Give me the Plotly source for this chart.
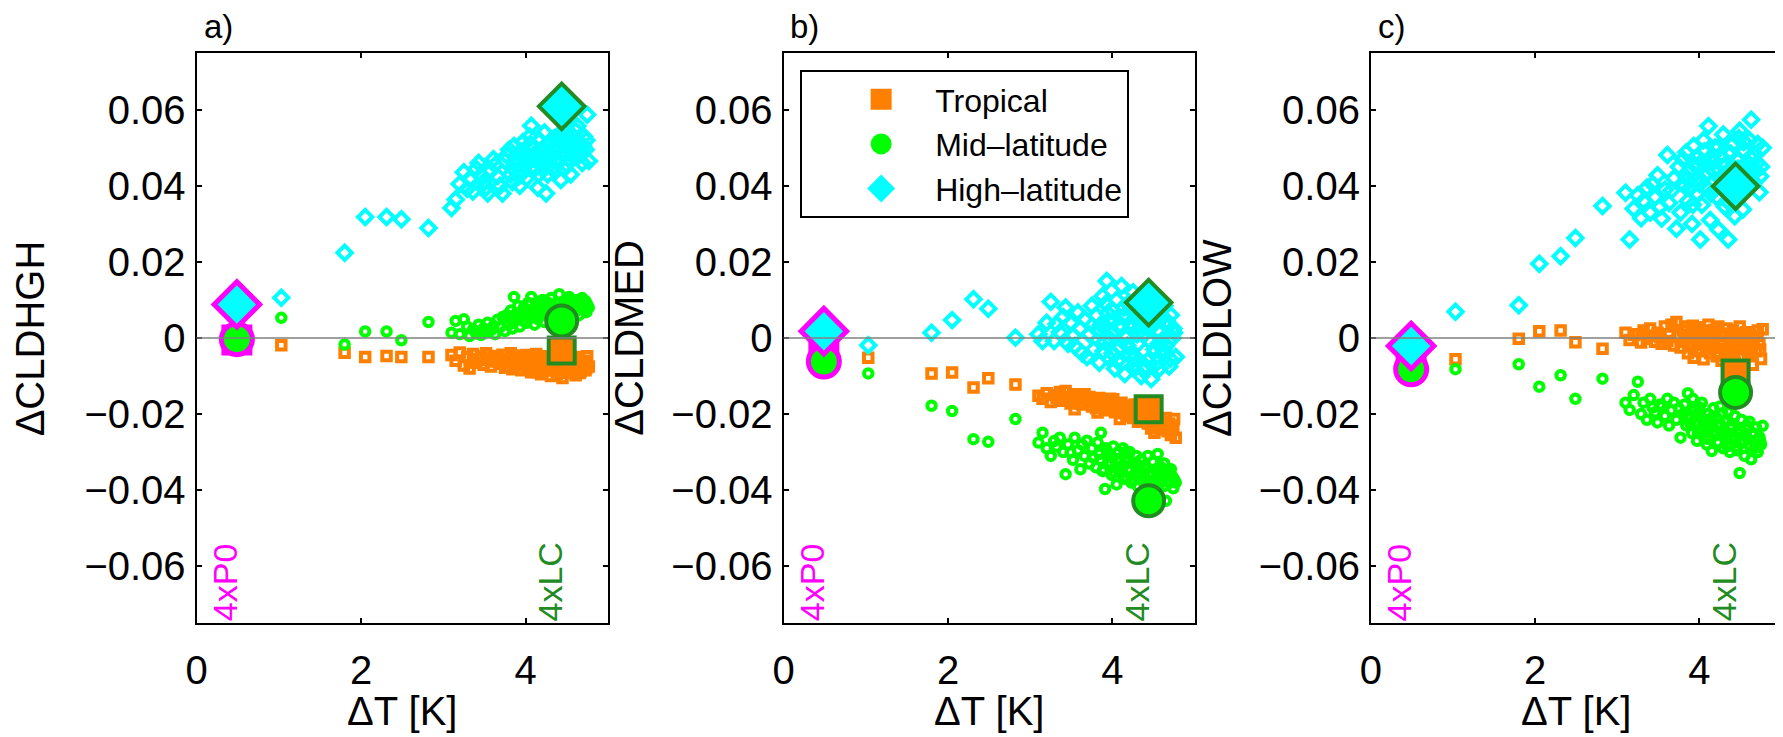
import plotly.graph_objects as go

W, H = 1783, 737
OFF = 8  # page body margin of the html page (px)

# ---------------- data ----------------
# Global-mean warming of each simulation (shared by the three panels)
dT = [1.03, 1.80, 2.05, 2.31, 2.49, 2.82,
      3.10, 3.15, 3.20, 3.25, 3.29, 3.32, 3.36, 3.40, 3.43, 3.46,
      3.49, 3.52, 3.54, 3.58, 3.61, 3.63, 3.66, 3.69, 3.72, 3.75,
      3.77, 3.80, 3.82, 3.84, 3.86, 3.88, 3.91, 3.93, 3.95, 3.97,
      3.99, 4.01, 4.03, 4.05, 4.07, 4.09, 4.11, 4.13, 4.15, 4.17,
      4.19, 4.21, 4.23, 4.25, 4.27, 4.29, 4.31, 4.33, 4.35, 4.37,
      4.39, 4.41, 4.43, 4.45, 4.47, 4.49, 4.51, 4.53, 4.55, 4.57,
      4.59, 4.61, 4.63, 4.65, 4.67, 4.69, 4.71, 4.73, 4.75, 4.77,
      3.85, 3.89, 3.94, 3.98, 4.02, 4.06, 4.10, 4.14, 4.18, 4.22,
      4.26, 4.30, 4.34, 4.38, 4.42, 4.46, 4.50, 4.54, 4.58, 4.62,
      4.66, 4.70, 4.74, 3.92, 4.00, 4.16, 4.28, 4.40, 4.48, 4.56]

# a) high cloud
hgh_trop = [-0.0019, -0.0039, -0.0050, -0.0047, -0.0050, -0.0050,
            -0.0045, -0.0060, -0.0038, -0.0072, -0.0050, -0.0080, -0.0042, -0.0065, -0.0055, -0.0048,
            -0.0070, -0.0040, -0.0058, -0.0075, -0.0047, -0.0062, -0.0052, -0.0068, -0.0044, -0.0078,
            -0.0056, -0.0064, -0.0040, -0.0082, -0.0050, -0.0070, -0.0046, -0.0060, -0.0085, -0.0053,
            -0.0066, -0.0045, -0.0076, -0.0058, -0.0090, -0.0050, -0.0068, -0.0042, -0.0080, -0.0062,
            -0.0095, -0.0055, -0.0072, -0.0048, -0.0085, -0.0060, -0.0100, -0.0052, -0.0075, -0.0066,
            -0.0088, -0.0050, -0.0070, -0.0105, -0.0058, -0.0078, -0.0045, -0.0092, -0.0063, -0.0082,
            -0.0055, -0.0098, -0.0068, -0.0050, -0.0088, -0.0072, -0.0060, -0.0085, -0.0048, -0.0075,
            -0.0060, -0.0075, -0.0052, -0.0068, -0.0082, -0.0058, -0.0072, -0.0090, -0.0065, -0.0078,
            -0.0055, -0.0085, -0.0068, -0.0095, -0.0060, -0.0072, -0.0088, -0.0062, -0.0080, -0.0070,
            -0.0092, -0.0065, -0.0078, -0.0048, -0.0056, -0.0070, -0.0078, -0.0084, -0.0066, -0.0074]
hgh_mid = [0.0053, -0.0017, 0.0017, 0.0017, -0.0006, 0.0042,
           0.0014, 0.0045, 0.0010, 0.0049, 0.0030, 0.0005, 0.0022, 0.0012, 0.0035, 0.0008,
           0.0025, 0.0015, 0.0040, 0.0020, 0.0032, 0.0010, 0.0048, 0.0028, 0.0055, 0.0018,
           0.0060, 0.0035, 0.0072, 0.0025, 0.0108, 0.0050, 0.0085, 0.0030, 0.0065, 0.0045,
           0.0078, 0.0040, 0.0092, 0.0055, 0.0108, 0.0068, 0.0035, 0.0082, 0.0050, 0.0095,
           0.0060, 0.0100, 0.0042, 0.0075, 0.0088, 0.0055, 0.0105, 0.0068, 0.0048, 0.0090,
           0.0072, 0.0115, 0.0058, 0.0085, 0.0045, 0.0098, 0.0065, 0.0108, 0.0078, 0.0052,
           0.0090, 0.0070, 0.0100, 0.0060, 0.0085, 0.0105, 0.0075, 0.0097, 0.0088, 0.0080,
           0.0040, 0.0065, 0.0055, 0.0080, 0.0062, 0.0090, 0.0072, 0.0058, 0.0085, 0.0070,
           0.0095, 0.0062, 0.0080, 0.0092, 0.0075, 0.0065, 0.0088, 0.0100, 0.0070, 0.0082,
           0.0095, 0.0078, 0.0068, 0.0058, 0.0070, 0.0088, 0.0080, 0.0092, 0.0086, 0.0095]
hgh_high = [0.0106, 0.0224, 0.0318, 0.0318, 0.0312, 0.0289,
            0.0342, 0.0364, 0.0405, 0.0436, 0.0392, 0.0418, 0.0385, 0.0445, 0.0460, 0.0428,
            0.0410, 0.0395, 0.0380, 0.0440, 0.0470, 0.0455, 0.0425, 0.0400, 0.0380, 0.0465,
            0.0480, 0.0495, 0.0430, 0.0410, 0.0505, 0.0455, 0.0470, 0.0400, 0.0440, 0.0515,
            0.0485, 0.0420, 0.0460, 0.0530, 0.0558, 0.0440, 0.0500, 0.0470, 0.0395, 0.0520,
            0.0455, 0.0490, 0.0540, 0.0380, 0.0430, 0.0510, 0.0475, 0.0445, 0.0525, 0.0500,
            0.0460, 0.0535, 0.0415, 0.0490, 0.0445, 0.0560, 0.0505, 0.0470, 0.0430, 0.0515,
            0.0500, 0.0545, 0.0557, 0.0480, 0.0510, 0.0460, 0.0530, 0.0495, 0.0587, 0.0465,
            0.0445, 0.0460, 0.0490, 0.0455, 0.0475, 0.0510, 0.0450, 0.0485, 0.0465, 0.0500,
            0.0480, 0.0455, 0.0495, 0.0470, 0.0520, 0.0480, 0.0455, 0.0500, 0.0480, 0.0515,
            0.0490, 0.0505, 0.0520, 0.0425, 0.0475, 0.0430, 0.0465, 0.0500, 0.0540, 0.0485]

# b) middle cloud
med_trop = [-0.0052, -0.0093, -0.0091, -0.0130, -0.0106, -0.0122,
            -0.0152, -0.0160, -0.0145, -0.0168, -0.0150, -0.0158, -0.0142, -0.0165, -0.0139, -0.0155,
            -0.0172, -0.0148, -0.0187, -0.0160, -0.0150, -0.0175, -0.0148, -0.0168, -0.0155, -0.0180,
            -0.0162, -0.0185, -0.0196, -0.0158, -0.0175, -0.0165, -0.0190, -0.0168, -0.0180, -0.0160,
            -0.0185, -0.0161, -0.0195, -0.0172, -0.0188, -0.0213, -0.0170, -0.0198, -0.0182, -0.0205,
            -0.0178, -0.0200, -0.0185, -0.0210, -0.0175, -0.0195, -0.0220, -0.0178, -0.0205, -0.0190,
            -0.0215, -0.0195, -0.0225, -0.0200, -0.0238, -0.0210, -0.0249, -0.0205, -0.0230, -0.0215,
            -0.0240, -0.0220, -0.0235, -0.0210, -0.0245, -0.0225, -0.0255, -0.0230, -0.0213, -0.0262,
            -0.0175, -0.0180, -0.0178, -0.0188, -0.0180, -0.0192, -0.0195, -0.0185, -0.0198, -0.0200,
            -0.0190, -0.0205, -0.0198, -0.0208, -0.0212, -0.0220, -0.0215, -0.0225, -0.0218, -0.0228,
            -0.0232, -0.0238, -0.0242, -0.0178, -0.0175, -0.0190, -0.0188, -0.0200, -0.0222, -0.0230]
med_mid = [-0.0093, -0.0178, -0.0192, -0.0266, -0.0273, -0.0213,
           -0.0275, -0.0249, -0.0290, -0.0310, -0.0271, -0.0285, -0.0262, -0.0300, -0.0358, -0.0280,
           -0.0301, -0.0320, -0.0262, -0.0295, -0.0345, -0.0280, -0.0310, -0.0270, -0.0330, -0.0290,
           -0.0315, -0.0340, -0.0275, -0.0305, -0.0249, -0.0350, -0.0397, -0.0295, -0.0330, -0.0310,
           -0.0360, -0.0285, -0.0340, -0.0385, -0.0300, -0.0325, -0.0355, -0.0290, -0.0370, -0.0315,
           -0.0345, -0.0300, -0.0380, -0.0330, -0.0360, -0.0310, -0.0390, -0.0340, -0.0320, -0.0365,
           -0.0335, -0.0395, -0.0310, -0.0355, -0.0375, -0.0325, -0.0400, -0.0345, -0.0305, -0.0370,
           -0.0340, -0.0360, -0.0330, -0.0428, -0.0350, -0.0380, -0.0345, -0.0365, -0.0372, -0.0380,
           -0.0320, -0.0345, -0.0305, -0.0330, -0.0352, -0.0318, -0.0338, -0.0365, -0.0325, -0.0348,
           -0.0372, -0.0335, -0.0355, -0.0380, -0.0342, -0.0362, -0.0385, -0.0350, -0.0368, -0.0390,
           -0.0358, -0.0375, -0.0395, -0.0290, -0.0315, -0.0300, -0.0328, -0.0375, -0.0360, -0.0388]
med_high = [-0.0019, 0.0014, 0.0047, 0.0102, 0.0077, 0.0001,
            0.0010, -0.0008, 0.0040, 0.0095, -0.0008, 0.0036, 0.0015, 0.0055, 0.0080, -0.0015,
            0.0040, 0.0005, -0.0021, 0.0067, 0.0025, -0.0040, 0.0050, -0.0050, 0.0010, 0.0085,
            -0.0030, 0.0060, 0.0020, -0.0065, 0.0035, 0.0110, -0.0010, 0.0150, 0.0045, -0.0055,
            0.0075, 0.0015, -0.0080, 0.0100, 0.0030, -0.0025, 0.0137, 0.0055, -0.0095, 0.0005,
            0.0090, -0.0045, 0.0025, 0.0120, -0.0070, 0.0050, -0.0015, 0.0080, -0.0100, 0.0035,
            0.0010, 0.0105, -0.0060, 0.0040, -0.0108, 0.0070, -0.0030, 0.0095, 0.0020, -0.0080,
            0.0055, -0.0040, 0.0085, -0.0020, 0.0030, -0.0075, 0.0060, 0.0000, 0.0014, -0.0050,
            0.0020, -0.0035, 0.0065, -0.0005, 0.0045, -0.0060, 0.0025, 0.0080, -0.0020, 0.0040,
            -0.0055, 0.0010, 0.0065, -0.0085, 0.0030, -0.0010, 0.0055, -0.0065, 0.0015, -0.0030,
            0.0045, -0.0055, 0.0025, 0.0090, -0.0040, 0.0060, -0.0050, -0.0075, 0.0070, -0.0015]

# c) low cloud
low_trop = [-0.0056, -0.0002, 0.0018, 0.0020, -0.0011, -0.0028,
            0.0014, -0.0005, 0.0008, 0.0010, -0.0012, 0.0020, -0.0002, 0.0025, 0.0006, -0.0010,
            0.0014, 0.0002, -0.0015, 0.0030, -0.0008, 0.0010, 0.0035, -0.0020, 0.0042, 0.0005,
            -0.0025, 0.0020, -0.0010, 0.0030, -0.0040, 0.0008, 0.0025, -0.0052, 0.0015, -0.0018,
            0.0028, -0.0030, 0.0005, -0.0056, 0.0020, -0.0012, 0.0035, -0.0040, 0.0010, -0.0022,
            0.0018, -0.0048, 0.0030, -0.0008, -0.0060, 0.0012, -0.0028, 0.0025, -0.0045, 0.0005,
            -0.0035, 0.0020, -0.0065, 0.0008, -0.0020, 0.0030, -0.0050, 0.0000, -0.0030, 0.0015,
            -0.0042, 0.0010, -0.0025, -0.0070, 0.0005, -0.0035, 0.0020, -0.0015, -0.0055, 0.0023,
            0.0000, -0.0022, 0.0012, -0.0035, -0.0005, 0.0018, -0.0028, -0.0010, 0.0022, -0.0040,
            -0.0015, 0.0008, -0.0032, -0.0002, -0.0048, 0.0012, -0.0025, -0.0008, 0.0015, -0.0038,
            -0.0012, 0.0005, -0.0030, 0.0032, -0.0015, 0.0000, -0.0018, -0.0042, -0.0005, -0.0025]
low_mid = [-0.0082, -0.0069, -0.0128, -0.0098, -0.0160, -0.0107,
           -0.0170, -0.0189, -0.0150, -0.0115, -0.0200, -0.0170, -0.0215, -0.0160, -0.0183, -0.0195,
           -0.0222, -0.0175, -0.0180, -0.0205, -0.0160, -0.0230, -0.0190, -0.0170, -0.0215, -0.0185,
           -0.0262, -0.0200, -0.0175, -0.0230, -0.0145, -0.0210, -0.0250, -0.0185, -0.0225, -0.0270,
           -0.0195, -0.0240, -0.0170, -0.0260, -0.0215, -0.0280, -0.0200, -0.0235, -0.0297, -0.0185,
           -0.0255, -0.0210, -0.0275, -0.0180, -0.0245, -0.0290, -0.0220, -0.0265, -0.0195, -0.0300,
           -0.0230, -0.0270, -0.0205, -0.0285, -0.0250, -0.0355, -0.0215, -0.0275, -0.0310, -0.0240,
           -0.0265, -0.0220, -0.0319, -0.0250, -0.0290, -0.0235, -0.0300, -0.0260, -0.0280, -0.0231,
           -0.0205, -0.0225, -0.0190, -0.0250, -0.0212, -0.0235, -0.0265, -0.0220, -0.0245, -0.0275,
           -0.0228, -0.0255, -0.0285, -0.0238, -0.0260, -0.0295, -0.0245, -0.0270, -0.0230, -0.0285,
           -0.0255, -0.0300, -0.0270, -0.0160, -0.0182, -0.0208, -0.0198, -0.0262, -0.0240, -0.0258]
low_high = [0.0069, 0.0086, 0.0195, 0.0215, 0.0263, 0.0347,
            0.0382, 0.0259, 0.0340, 0.0375, 0.0315, 0.0360, 0.0395, 0.0330, 0.0405, 0.0370,
            0.0428, 0.0345, 0.0314, 0.0390, 0.0481, 0.0355, 0.0388, 0.0420, 0.0287, 0.0450,
            0.0330, 0.0470, 0.0400, 0.0488, 0.0360, 0.0440, 0.0300, 0.0505, 0.0415, 0.0380,
            0.0455, 0.0259, 0.0350, 0.0520, 0.0425, 0.0395, 0.0557, 0.0310, 0.0465, 0.0440,
            0.0500, 0.0370, 0.0285, 0.0480, 0.0415, 0.0535, 0.0345, 0.0455, 0.0259, 0.0430,
            0.0390, 0.0510, 0.0320, 0.0470, 0.0445, 0.0545, 0.0375, 0.0338, 0.0490, 0.0420,
            0.0460, 0.0520, 0.0574, 0.0405, 0.0480, 0.0440, 0.0510, 0.0383, 0.0450, 0.0500,
            0.0420, 0.0395, 0.0455, 0.0475, 0.0410, 0.0490, 0.0435, 0.0380, 0.0465, 0.0500,
            0.0420, 0.0450, 0.0360, 0.0485, 0.0430, 0.0470, 0.0400, 0.0515, 0.0440, 0.0475,
            0.0410, 0.0460, 0.0425, 0.0350, 0.0405, 0.0480, 0.0395, 0.0450, 0.0525, 0.0440]

# highlighted experiments: 4xP0 and 4xLC
exp_names = ["4xP0", "4xLC"]
dT_exp = [0.49, 4.44]
hgh_exp_trop = [-0.0005, -0.0033]
hgh_exp_mid = [-0.0003, 0.0045]
hgh_exp_high = [0.0088, 0.0609]
med_exp_trop = [-0.0045, -0.0187]
med_exp_mid = [-0.0062, -0.0428]
med_exp_high = [0.0018, 0.0093]
low_exp_trop = [-0.0060, -0.0093]
low_exp_mid = [-0.0082, -0.0143]
low_exp_high = [-0.0021, 0.0399]

region_names = ["Tropical", "Mid–latitude", "High–latitude"]
panel_letters = ["a)", "b)", "c)"]
panel_ylabels = ["ΔCLDHGH", "ΔCLDMED", "ΔCLDLOW"]
xlabel = "ΔT [K]"
x_ticks = [0, 2, 4]
x_ticktext = ["0", "2", "4"]
y_ticks = [-0.06, -0.04, -0.02, 0, 0.02, 0.04, 0.06]
y_ticktext = ["−0.06", "−0.04", "−0.02", "0", "0.02", "0.04", "0.06"]
x_range = [0, 5]
y_range = [-0.075, 0.075]

# ---------------- styles ----------------
ORANGE = "#FF8000"
GREEN = "#00FF00"
CYAN = "#00FFFF"
MAGENTA = "#FF00FF"
DKGREEN = "#228B22"
FONT = "Liberation Sans, Arial, Helvetica, sans-serif"
region_colors = [ORANGE, GREEN, CYAN]
small_symbols = ["square-open", "circle-open", "diamond-open"]
small_sizes = [8.5, 8.5, 11]
small_lw = 4
big_symbols = ["square", "circle", "diamond"]
big_sizes = [26, 31, 35]
legend_symbols = ["square", "circle", "diamond"]
exp_edge = [MAGENTA, DKGREEN]
exp_edge_w = [5, 4]

panels = [
    (hgh_trop, hgh_mid, hgh_high, hgh_exp_trop, hgh_exp_mid, hgh_exp_high),
    (med_trop, med_mid, med_high, med_exp_trop, med_exp_mid, med_exp_high),
    (low_trop, low_mid, low_high, low_exp_trop, low_exp_mid, low_exp_high),
]

# pixel layout (page pixels, converted to figure pixels with OFF)
x_dom_px = [(186.7, 600.4), (777.3, 1191.0), (1368.3, 1781.5)]
y_dom_px = (52.7, 623.3)  # top, bottom
ylabel_x_px = [31.5, 633.5, 1225.5]
ROT_SHIFT = -12  # rotated text box correction


def fx(px):
    return (px - OFF) / W


def fy(py):
    return (H - (py - OFF)) / H


fig = go.Figure()

for p, data in enumerate(panels):
    xa = "x" if p == 0 else f"x{p+1}"
    ya = "y" if p == 0 else f"y{p+1}"
    small = data[:3]
    big = data[3:]
    for r in range(3):
        fig.add_trace(go.Scatter(
            x=dT, y=small[r], mode="markers", xaxis=xa, yaxis=ya,
            showlegend=False, hoverinfo="skip",
            marker=dict(symbol=small_symbols[r], size=small_sizes[r],
                        color=region_colors[r],
                        line=dict(width=small_lw, color=region_colors[r]))))
    for r in range(3):
        fig.add_trace(go.Scatter(
            x=dT_exp, y=big[r], mode="markers", xaxis=xa, yaxis=ya,
            showlegend=False, text=exp_names, hoverinfo="text+y",
            marker=dict(symbol=big_symbols[r], size=big_sizes[r],
                        color=region_colors[r],
                        line=dict(width=exp_edge_w, color=exp_edge))))

# legend entries (panel b)
for r in range(3):
    fig.add_trace(go.Scatter(
        x=[None], y=[None], mode="markers", xaxis="x2", yaxis="y2",
        name=region_names[r], showlegend=True,
        marker=dict(symbol=legend_symbols[r], size=16, color=region_colors[r],
                    line=dict(width=5, color=region_colors[r]))))

layout = dict(
    width=W, height=H,
    margin=dict(l=0, r=0, t=0, b=0),
    paper_bgcolor="white", plot_bgcolor="white",
    font=dict(family=FONT, size=40, color="black"),
    showlegend=True,
    legend=dict(x=fx(794), y=fy(70), xanchor="left", yanchor="top",
                bgcolor="white", bordercolor="black", borderwidth=2,
                font=dict(family=FONT, size=32, color="black"),
                indentation=25, itemwidth=98, tracegroupgap=0),
)

shapes = []
annotations = []
for p in range(3):
    sfx = "" if p == 0 else str(p + 1)
    x0, x1 = x_dom_px[p]
    layout["xaxis" + sfx] = dict(
        domain=[fx(x0), fx(x1)], range=x_range, anchor="y" + sfx,
        tickvals=x_ticks, ticktext=x_ticktext, ticks="inside", ticklen=5,
        tickwidth=1.5, tickcolor="black", showline=True, linewidth=2,
        linecolor="black", mirror="ticks", showgrid=False, zeroline=False,
        tickfont=dict(family=FONT, size=40, color="black"),
        ticklabelstandoff=11)
    layout["yaxis" + sfx] = dict(
        domain=[fy(y_dom_px[1]), fy(y_dom_px[0])], range=y_range,
        anchor="x" + sfx, tickvals=y_ticks, ticktext=y_ticktext,
        ticks="inside", ticklen=5, tickwidth=1.5, tickcolor="black",
        showline=True, linewidth=2, linecolor="black", mirror="ticks",
        showgrid=False, zeroline=False,
        tickfont=dict(family=FONT, size=40, color="black"),
        ticklabelstandoff=1)
    # zero reference line
    shapes.append(dict(type="line", xref=f"x{sfx} domain", yref="y" + sfx,
                       x0=0, x1=1, y0=0, y1=0, layer="above",
                       line=dict(color="#808080", width=1.5)))
    # y-axis title
    annotations.append(dict(text=panel_ylabels[p], xref="paper", yref="paper",
                            x=fx(ylabel_x_px[p]), y=fy(338), xshift=ROT_SHIFT,
                            xanchor="center", yanchor="middle", textangle=-90,
                            showarrow=False,
                            font=dict(family=FONT, size=40, color="black")))
    # x-axis title
    annotations.append(dict(text=xlabel, xref=f"x{sfx} domain", yref="paper",
                            x=0.5, y=fy(711), xanchor="center",
                            yanchor="middle", showarrow=False,
                            font=dict(family=FONT, size=40, color="black")))
    # panel letter
    annotations.append(dict(text=panel_letters[p], xref=f"x{sfx} domain",
                            yref="paper", x=0.012, y=fy(26),
                            xanchor="left", yanchor="middle", showarrow=False,
                            font=dict(family=FONT, size=33, color="black")))
    # experiment labels
    for e in range(2):
        annotations.append(dict(text=exp_names[e], xref="x" + sfx,
                                yref=f"y{sfx} domain", x=dT_exp[e], y=0.0,
                                xshift=ROT_SHIFT,
                                xanchor="center", yanchor="bottom",
                                textangle=-90, showarrow=False,
                                font=dict(family=FONT, size=34,
                                          color=exp_edge[e])))

layout["shapes"] = shapes
layout["annotations"] = annotations
fig.update_layout(**layout)

fig.write_html("out.html")
